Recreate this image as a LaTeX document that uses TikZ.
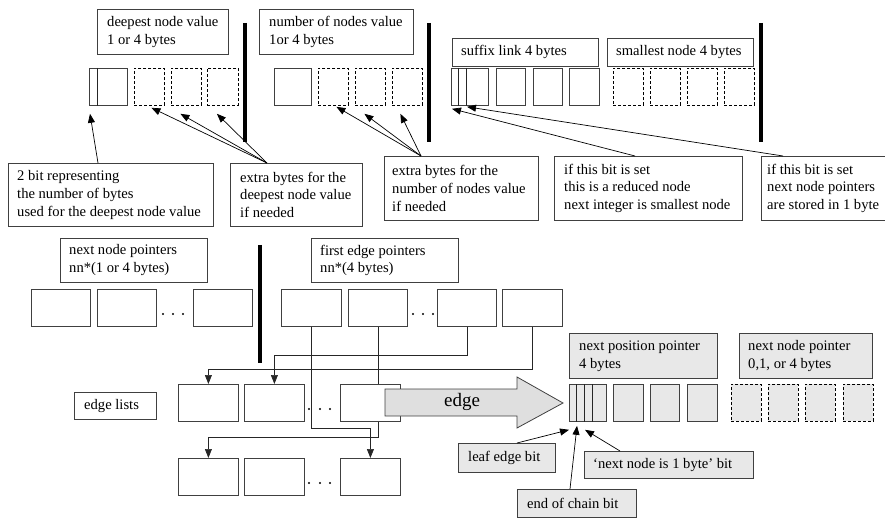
\documentclass[tikz,border=0pt]{standalone}
\usepackage{fontspec}
\setmainfont{Liberation Serif}
\usetikzlibrary{arrows.meta,calc}
\newcommand\fs{\fontsize{14.6}{17.8}\selectfont}
\begin{document}
\begin{tikzpicture}[x=1pt,y=-1pt,
 tbox/.style={draw=black!75, line width=0.8pt, anchor=north west, inner sep=0pt},
 gbox/.style={tbox, fill=gray!18},
 txt/.style={anchor=west, align=left, inner sep=0pt, font=\fs},
 cell/.style={draw=black!75, line width=0.8pt, anchor=north west, inner sep=0pt, minimum height=37pt, minimum width=30pt},
 dcell/.style={cell, draw=black, dash pattern=on 3pt off 2pt},
 gcell/.style={cell, fill=gray!18},
 gdcell/.style={dcell, fill=gray!18},
 bar/.style={line width=4pt},
 arr/.style={-{Triangle[length=9pt,width=7pt]}, line width=0.7pt},
 con/.style={line width=0.8pt, draw=black!85}]
\useasboundingbox (0,0) rectangle (885,518);

% ---------- top text boxes ----------
\node[tbox, minimum width=131pt, minimum height=45pt] (T1) at (97,9) {};
\node[txt] (T1t) at ([xshift=10pt]T1.west) {deepest node value\\1 or 4 bytes};
\node[tbox, minimum width=154pt, minimum height=45pt] (T2) at (259,9) {};
\node[txt] (T2t) at ([xshift=10pt]T2.west) {number of nodes value\\1or 4 bytes};
\node[tbox, minimum width=146pt, minimum height=28pt] (T3) at (452,38) {};
\node[txt] (T3t) at ([xshift=9pt]T3.west) {suffix link 4 bytes};
\node[tbox, minimum width=146pt, minimum height=28pt] (T4) at (607,38) {};
\node[txt] (T4t) at ([xshift=9pt]T4.west) {smallest node 4 bytes};

% ---------- bars ----------
\draw[bar] (245,23) -- (245,142);
\draw[bar] (429,23) -- (429,142);
\draw[bar] (761,23) -- (761,142);
\draw[bar] (260,245) -- (260,363);

% ---------- top cells ----------
\node[cell, minimum width=38pt] (A0) at (89,68) {};
\draw[con] ([xshift=8pt]A0.north west) -- ([xshift=8pt]A0.south west);
\node[dcell] (A1) at (134,68) {};
\node[dcell] (A2) at (171,68) {};
\node[dcell, minimum width=31pt] (A3) at (207,68) {};

\node[cell, minimum width=37pt] (B0) at (274,68) {};
\node[dcell] (B1) at (318,68) {};
\node[dcell] (B2) at (355,68) {};
\node[dcell] (B3) at (392,68) {};

\node[cell, minimum width=37pt] (C0) at (451,68) {};
\draw[con] ([xshift=7pt]C0.north west) -- ([xshift=7pt]C0.south west);
\draw[con] ([xshift=15pt]C0.north west) -- ([xshift=15pt]C0.south west);
\node[cell, minimum width=29pt] (C1) at (496,68) {};
\node[cell, minimum width=29pt] (C2) at (533,68) {};
\node[cell] (C3) at (569,68) {};

\node[dcell] (D0) at (613,68) {};
\node[dcell] (D1) at (650,68) {};
\node[dcell] (D2) at (687,68) {};
\node[dcell] (D3) at (724,68) {};

% ---------- explanation boxes ----------
\node[tbox, minimum width=205pt, minimum height=63pt] (T5) at (8,163) {};
\node[txt] (T5t) at ([xshift=9pt]T5.west) {2 bit representing\\the number of bytes\\used for the deepest node value};
\node[tbox, minimum width=132pt, minimum height=63pt] (T6) at (230,163) {};
\node[txt] (T6t) at ([xshift=10pt]T6.west) {extra bytes for the\\deepest node value\\if needed};
\node[tbox, minimum width=154pt, minimum height=64pt] (T7) at (384,156) {};
\node[txt] (T7t) at ([xshift=8pt]T7.west) {extra bytes for the\\number of nodes value\\if needed};
\node[tbox, minimum width=188pt, minimum height=64pt] (T8) at (554,156) {};
\node[txt] (T8t) at ([xshift=10pt]T8.west) {if this bit is set\\this is a reduced node\\next integer is smallest node};
\node[tbox, minimum width=150pt, minimum height=64pt] (T9) at (761,156) {};
\node[txt] (T9t) at ([xshift=6pt]T9.west) {if this bit is set\\next node pointers\\are stored in 1 byte};

% ---------- top arrows ----------
\draw[arr] ([xshift=90pt]T5.north west) -- ($(A0.south west)+(1,8)$);
\draw[arr] ([xshift=37pt]T6.north west) -- ($(A1.south)+(2,2)$);
\draw[arr] ([xshift=37pt]T6.north west) -- ($(A2.south)+(-6,8)$);
\draw[arr] ([xshift=37pt]T6.north west) -- ($(A3.south)+(-6,8)$);
\draw[arr] ([xshift=37pt]T7.north west) -- ($(B1.south)+(3,1)$);
\draw[arr] ([xshift=37pt]T7.north west) -- ($(B2.south)+(-6,8)$);
\draw[arr] ([xshift=37pt]T7.north west) -- ($(B3.south)+(-7,8)$);
\draw[arr] ([xshift=81pt]T8.north west) -- ($(C0.south west)+(1,3)$);
\draw[arr] ([xshift=22pt]T9.north west) -- ($(C0.south west)+(16,1)$);

% ---------- pointer arrays ----------
\node[tbox, minimum width=147pt, minimum height=44pt] (T10) at (60,238) {};
\node[txt] (T10t) at ([xshift=9pt]T10.west) {next node pointers\\nn*(1 or 4 bytes)};
\node[tbox, minimum width=147pt, minimum height=44pt] (T11) at (311,238) {};
\node[txt] (T11t) at ([xshift=9pt]T11.west) {first edge pointers\\nn*(4 bytes)};

\node[cell, minimum width=59pt] (N1) at (31,289) {};
\node[cell, minimum width=59pt] (N2) at (97,289) {};
\node[cell, minimum width=59pt] (N3) at (193,289) {};
\foreach \x in {163,173,183} \fill (\x,314) circle (1.1pt);

\node[cell, minimum width=60pt] (F1) at (281,289) {};
\node[cell, minimum width=59pt] (F2) at (348,289) {};
\node[cell, minimum width=59pt] (F3) at (437,289) {};
\node[cell, minimum width=60pt] (F4) at (502,289) {};
\foreach \x in {413,423,433} \fill (\x,314) circle (1.1pt);

% ---------- edge lists ----------
\node[tbox, minimum width=82pt, minimum height=27pt] (T12) at (74,392) {};
\node[txt] (T12t) at ([xshift=10pt]T12.west) {edge lists};

\node[cell, minimum width=60pt] (E1) at (178,384) {};
\node[cell, minimum width=60pt] (E2) at (244,384) {};
\node[cell, minimum width=60pt] (E3) at (340,384) {};
\foreach \x in {309,320,330} \fill (\x,409) circle (1.1pt);

\node[cell, minimum width=60pt] (G1) at (178,458) {};
\node[cell, minimum width=60pt] (G2) at (244,458) {};
\node[cell, minimum width=60pt] (G3) at (340,458) {};
\foreach \x in {309,320,330} \fill (\x,483) circle (1.1pt);

% connectors
\draw[con, arr] (F1.south) |- (G3.north |- 0,428) -- (G3.north);
\draw[con] (F2.south) -- (F2.south |- E3.north);
\draw[con, arr] (F2.south |- E3.south) |- (G1.north |- 0,437) -- (G1.north);
\draw[con, arr] (F3.south) |- (E2.north |- 0,355) -- (E2.north);
\draw[con, arr] (F4.south) |- (E1.north |- 0,369) -- (E1.north);

% ---------- edge arrow ----------
\draw[line width=0.8pt, draw=black!75, fill=gray!25]
  (385,389) -- (517,389) -- (517,377) -- (563,403) -- (517,428) -- (517,416) -- (385,416) -- cycle;
\node[font=\fontsize{19}{22}\selectfont, inner sep=0pt] (EL) at (462,402) {edge};

% ---------- edge record ----------
\node[gbox, minimum width=148pt, minimum height=45pt] (T13) at (569,333) {};
\node[txt] (T13t) at ([xshift=10pt]T13.west) {next position pointer\\4 bytes};
\node[gbox, minimum width=133pt, minimum height=45pt] (T14) at (739,333) {};
\node[txt] (T14t) at ([xshift=9pt]T14.west) {next node pointer\\0,1, or 4 bytes};

\node[gcell, minimum width=37pt] (H0) at (569,384) {};
\foreach \d in {7,15,23} \draw[con] ([xshift=\d pt]H0.north west) -- ([xshift=\d pt]H0.south west);
\node[gcell] (H1) at (613,384) {};
\node[gcell, minimum width=29pt] (H2) at (650,384) {};
\node[gcell] (H3) at (687,384) {};
\node[gdcell] (K0) at (731,384) {};
\node[gdcell] (K1) at (768,384) {};
\node[gdcell] (K2) at (805,384) {};
\node[gdcell] (K3) at (843,384) {};

\node[gbox, minimum width=97pt, minimum height=29pt] (T15) at (458,443) {};
\node[txt] (T15t) at ([xshift=10pt]T15.west) {leaf edge bit};
\node[gbox, minimum width=169pt, minimum height=27pt] (T16) at (584,451) {};
\node[txt] (T16t) at ([xshift=9pt]T16.west) {‘next node is 1 byte’ bit};
\node[gbox, minimum width=119pt, minimum height=28pt] (T17) at (517,489) {};
\node[txt] (T17t) at ([xshift=10pt]T17.west) {end of chain bit};

\draw[arr] ([xshift=59pt]T15.north west) -- ($(H0.south west)+(0,8)$);
\draw[arr] ([xshift=53pt]T17.north west) -- ($(H0.south west)+(8,4)$);
\draw[arr] ([xshift=36pt]T16.north west) -- ($(H0.south west)+(16,8)$);
\end{tikzpicture}
\end{document}
